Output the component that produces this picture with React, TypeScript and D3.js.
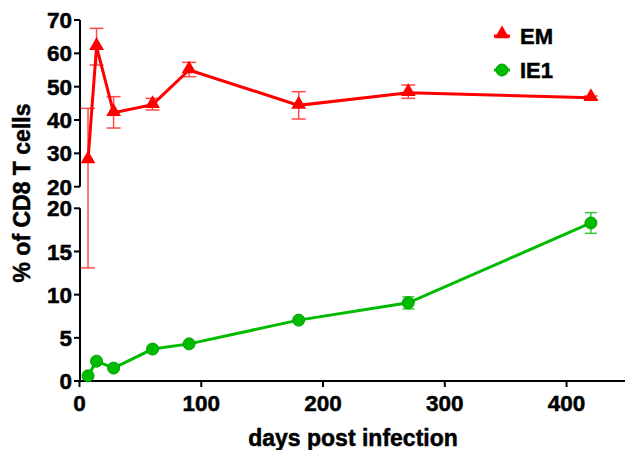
import React from "react";
import * as d3 from "d3";

const days = [7, 14, 28, 60, 90, 180, 270, 420];
const emMean = [28, 62, 42.2, 44.6, 55, 44.4, 48.2, 46.7];
const emLow = [13.1, 56.5, 37.6, 43, 53, 40.3, 46.5, 46.2];
const emHigh = [43.5, 67.5, 47, 46.5, 57.3, 48.5, 50.5, 47.2];
const ie1Mean = [0.6, 2.3, 1.5, 3.7, 4.3, 7.05, 9.05, 18.3];
const ie1Low = [0.6, 2.3, 1.5, 3.7, 4.3, 7.05, 8.35, 17.1];
const ie1High = [0.6, 2.3, 1.5, 3.7, 4.3, 7.05, 9.75, 19.5];
const xTicks = [0, 100, 200, 300, 400];
const upperTicks = [20, 30, 40, 50, 60, 70];
const lowerTicks = [0, 5, 10, 15, 20];
const seriesNames = ["EM", "IE1"];

const W = 625, H = 450;
const RED = "#ff0000", RED_ERR = "#ff4a4a", GREEN = "#00bb00", GREEN_DARK = "#00a000", GREEN_ERR = "#33cc33";
const FONT = "Liberation Sans, Arial, sans-serif";
const txt = { fontFamily: FONT, fontWeight: "bold" as const, stroke: "#000", strokeWidth: 0.5 };

export default function App() {
  const x = d3.scaleLinear().domain([0, 448]).range([79.5, 625]);
  const yUp = d3.scaleLinear().domain([20, 70]).range([186.7, 20]);
  const yLo = d3.scaleLinear().domain([0, 20]).range([381, 208.3]);
  const yEm = (v: number) => (v >= 20 ? yUp(v) : yLo(v));

  const emLine = d3.line<number>().x((_, i) => x(days[i])).y((v) => yEm(v));
  const ieLine = d3.line<number>().x((_, i) => x(days[i])).y((v) => yLo(v));
  const tri = d3.symbol().type(d3.symbolTriangle).size(95)();
  const axisX = 80;

  return (
    <svg width={W} height={H} style={{ position: "absolute", left: 0, top: 0 }}>
      <rect width={W} height={H} fill="#fff" />
      {/* Y axis upper */}
      <line x1={axisX} x2={axisX} y1={yUp(20)} y2={yUp(70)} stroke="#000" strokeWidth={2} />
      {upperTicks.map((t) => (
        <g key={"u" + t}>
          <line x1={axisX - 6} x2={axisX} y1={yUp(t)} y2={yUp(t)} stroke="#000" strokeWidth={2} />
          <text x={axisX - 8} y={yUp(t)} dy="0.36em" textAnchor="end" fontSize={22.5} {...txt}>
            {t}
          </text>
        </g>
      ))}
      {/* Y axis lower */}
      <line x1={axisX} x2={axisX} y1={yLo(0) + 1} y2={yLo(20)} stroke="#000" strokeWidth={2} />
      {lowerTicks.map((t) => (
        <g key={"l" + t}>
          <line x1={axisX - 6} x2={axisX} y1={yLo(t)} y2={yLo(t)} stroke="#000" strokeWidth={2} />
          <text x={axisX - 8} y={yLo(t)} dy="0.36em" textAnchor="end" fontSize={22.5} {...txt}>
            {t}
          </text>
        </g>
      ))}
      {/* X axis */}
      <line x1={axisX - 1} x2={W} y1={yLo(0)} y2={yLo(0)} stroke="#000" strokeWidth={2} />
      {xTicks.map((t) => (
        <g key={"x" + t}>
          <line x1={x(t)} x2={x(t)} y1={yLo(0)} y2={yLo(0) + 6} stroke="#000" strokeWidth={2} />
          <text x={x(t)} y={yLo(0) + 30} textAnchor="middle" fontSize={22.5} {...txt}>
            {t}
          </text>
        </g>
      ))}
      <text x={353} y={446} textAnchor="middle" fontSize={23} {...txt}>
        days post infection
      </text>
      <text transform={`translate(30,193) rotate(-90)`} textAnchor="middle" fontSize={23} {...txt}>
        % of CD8 T cells
      </text>

      {/* EM error bars */}
      {days.map((d, i) => (
        <g key={"ee" + i} stroke={RED_ERR} strokeWidth={1.5}>
          <line x1={x(d)} x2={x(d)} y1={yEm(emLow[i])} y2={yEm(emHigh[i])} />
          <line x1={x(d) - 7} x2={x(d) + 7} y1={yEm(emLow[i])} y2={yEm(emLow[i])} />
          <line x1={x(d) - 7} x2={x(d) + 7} y1={yEm(emHigh[i])} y2={yEm(emHigh[i])} />
        </g>
      ))}
      <path d={emLine(emMean) || ""} fill="none" stroke={RED} strokeWidth={3} />
      {days.map((d, i) => (
        <path key={"et" + i} d={tri || ""} transform={`translate(${x(d)},${yEm(emMean[i]) - 1})`} fill={RED} />
      ))}

      {/* IE1 error bars */}
      {days.map((d, i) =>
        ie1High[i] - ie1Low[i] > 0.01 ? (
          <g key={"ie" + i} stroke={GREEN_ERR} strokeWidth={1.5}>
            <line x1={x(d)} x2={x(d)} y1={yLo(ie1Low[i])} y2={yLo(ie1High[i])} />
            <line x1={x(d) - 6} x2={x(d) + 6} y1={yLo(ie1Low[i])} y2={yLo(ie1Low[i])} />
            <line x1={x(d) - 6} x2={x(d) + 6} y1={yLo(ie1High[i])} y2={yLo(ie1High[i])} />
          </g>
        ) : null
      )}
      <path d={ieLine(ie1Mean) || ""} fill="none" stroke={GREEN} strokeWidth={3} />
      {days.map((d, i) => (
        <circle key={"ic" + i} cx={x(d)} cy={yLo(ie1Mean[i])} r={6} fill={GREEN} stroke={GREEN_DARK} strokeWidth={1} />
      ))}

      {/* Legend */}
      <g>
        <line x1={494} x2={510} y1={36} y2={36} stroke={RED} strokeWidth={3} />
        <path d={tri || ""} transform="translate(502,34)" fill={RED} />
        <text x={520} y={44} fontSize={22} {...txt}>
          {seriesNames[0]}
        </text>
        <line x1={494} x2={510} y1={70} y2={70} stroke={GREEN} strokeWidth={3} />
        <circle cx={502} cy={70} r={6} fill={GREEN} stroke={GREEN_DARK} strokeWidth={1} />
        <text x={520} y={78} fontSize={22} {...txt}>
          {seriesNames[1]}
        </text>
      </g>
    </svg>
  );
}
